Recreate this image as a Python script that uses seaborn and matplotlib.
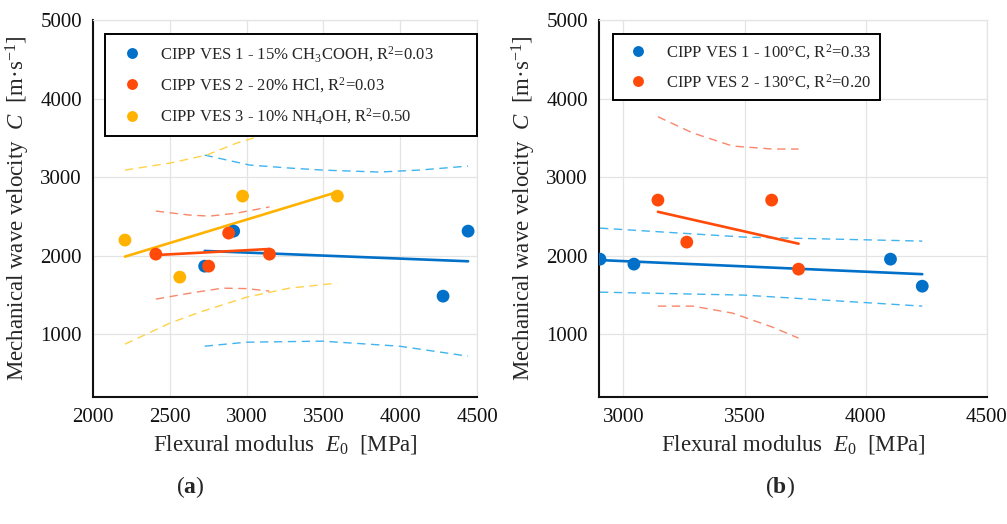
import matplotlib
matplotlib.use('Agg')
import matplotlib.pyplot as plt
import numpy as np
import pandas as pd
import seaborn as sns

# ---- data ----
# panel (a): acid treatments
a_labels = [r'CIPP VES 1 - 15% CH$_3$COOH, R$^2$=0.03',
            r'CIPP VES 2 - 20% HCl, R$^2$=0.03',
            r'CIPP VES 3 - 10% NH$_4$OH, R$^2$=0.50']
a_x = [[2727, 2916, 4279, 4442],
       [2409, 2753, 2883, 3149],
       [2208, 2565, 2974, 3591]]
a_y = [[1866, 2312, 1484, 2312],
       [2019, 1866, 2287, 2019],
       [2198, 1726, 2758, 2758]]

# dashed bounds (a)
a_band_x = [[2727, 3020, 3279, 3494, 3864, 4124, 4442],
            [2409, 2630, 2760, 2935, 3149],
            [2208, 2500, 2740, 2935, 3150]]
a_band_up = [[3280, 3153, 3115, 3089, 3064, 3089, 3140],
             [2567, 2516, 2503, 2541, 2620],
             [3089, 3178, 3280, 3433, 3560]]
a_band_lo_x = [[2727, 3000, 3494, 3994, 4442],
               [2409, 2630, 2844, 3000, 3149],
               [2208, 2500, 2695, 3000, 3279, 3591]]
a_band_lo = [[847, 898, 911, 847, 720],
             [1446, 1522, 1586, 1580, 1548],
             [873, 1140, 1280, 1471, 1586, 1650]]

# panel (b): curing temperature
b_labels = [r'CIPP VES 1 - 100°C, R$^2$=0.33',
            r'CIPP VES 2 - 130°C, R$^2$=0.20']
b_x = [[2904, 3044, 4102, 4233],
       [3143, 3262, 3612, 3723]]
b_y = [[1955, 1892, 1955, 1611],
       [2707, 2172, 2707, 1828]]

b_band_x = [[2904, 3500, 4233],
            [3143, 3287, 3451, 3616, 3723]]
b_band_up = [[2350, 2236, 2185],
             [3768, 3561, 3395, 3357, 3357]]
b_band_lo = [[1535, 1497, 1357],
             [1357, 1357, 1268, 1089, 949]]

point_colors = ['#0070C8', '#FF4A0A', '#FFB300']
band_colors = ['#40B4EE', '#F8876A', '#FFD24A']

sns.set_style('white')
plt.rcParams['font.family'] = ['Liberation Serif', 'DejaVu Serif']
plt.rcParams['mathtext.fontset'] = 'custom'
plt.rcParams['mathtext.rm'] = 'Liberation Serif'
plt.rcParams['mathtext.it'] = 'Liberation Serif:italic'
plt.rcParams['mathtext.bf'] = 'Liberation Serif:bold'

fig = plt.figure(figsize=(10.07, 5.24), dpi=100)
ax_a = fig.add_axes([93 / 1007, 127 / 524, 384 / 1007, 377 / 524])
ax_b = fig.add_axes([599 / 1007, 127 / 524, 388 / 1007, 377 / 524])


def make_df(labels, xs, ys):
    rows = []
    for lab, xx, yy in zip(labels, xs, ys):
        for x, y in zip(xx, yy):
            rows.append((lab, x, y))
    return pd.DataFrame(rows, columns=['series', 'E0', 'C'])


def draw_panel(ax, df, labels, band_x, band_up, band_lo_x, band_lo):
    for i, lab in enumerate(labels):
        sub = df[df.series == lab]
        sns.lineplot(x=band_x[i], y=band_up[i], ax=ax, color=band_colors[i],
                     lw=1.0, linestyle=(0, (6, 4)), zorder=1)
        sns.lineplot(x=band_lo_x[i], y=band_lo[i], ax=ax, color=band_colors[i],
                     lw=1.0, linestyle=(0, (6, 4)), zorder=1)
        sns.regplot(data=sub, x='E0', y='C', ax=ax, scatter=False, ci=None,
                    truncate=True, color=point_colors[i],
                    line_kws=dict(lw=1.9, zorder=2))
    sns.scatterplot(data=df, x='E0', y='C', hue='series', hue_order=labels,
                    palette=point_colors[:len(labels)], s=85, linewidth=0,
                    ax=ax, zorder=3)


df_a = make_df(a_labels, a_x, a_y)
df_b = make_df(b_labels, b_x, b_y)
draw_panel(ax_a, df_a, a_labels, a_band_x, a_band_up, a_band_lo_x, a_band_lo)
draw_panel(ax_b, df_b, b_labels, b_band_x, b_band_up, b_band_x, b_band_lo)

ax_a.set_xlim(2000, 4500)
ax_a.set_xticks([2000, 2500, 3000, 3500, 4000, 4500])
ax_b.set_xlim(2900, 4500)
ax_b.set_xticks([3000, 3500, 4000, 4500])

for ax in (ax_a, ax_b):
    ax.set_ylim(200, 5000)
    ax.set_yticks([1000, 2000, 3000, 4000, 5000])
    ax.grid(True, color='#e4e4e4', lw=0.9)
    ax.set_axisbelow(True)
    for s in ('top', 'right'):
        ax.spines[s].set_color('#e4e4e4')
        ax.spines[s].set_linewidth(0.9)
    for s in ('left', 'bottom'):
        ax.spines[s].set_color('#111111')
        ax.spines[s].set_linewidth(1.5)
    ax.tick_params(direction='in', length=5, width=1.2, labelsize=15,
                   colors='#111111', pad=8, top=False, right=False)
    ax.set_xlabel(r'Flexural modulus  $E_0$  [MPa]', fontsize=16.5, labelpad=4)
    ax.set_ylabel(r'Mechanical wave velocity  $C$  [m·s$^{-1}$]', fontsize=16.5,
                  labelpad=6)

leg_a = ax_a.legend(loc='upper left', bbox_to_anchor=(0.031, 0.963, 0.969, 0.0),
                    mode='expand', fontsize=12, frameon=True, fancybox=False,
                    framealpha=1, edgecolor='black', borderpad=0.6,
                    labelspacing=0.7, handletextpad=0.7, markerscale=0.85,
                    borderaxespad=0)
leg_b = ax_b.legend(loc='upper left', bbox_to_anchor=(0.036, 0.963),
                    fontsize=12, frameon=True, fancybox=False, framealpha=1,
                    edgecolor='black', borderpad=0.5, labelspacing=0.6,
                    handletextpad=0.7, markerscale=0.85, borderaxespad=0)
for leg in (leg_a, leg_b):
    leg.get_frame().set_linewidth(1.4)
    leg.set_zorder(10)

fig.text(190 / 1007, 1 - 487 / 524, r'($\mathbf{a}$)', fontsize=17,
         ha='center', va='center')
fig.text(780 / 1007, 1 - 487 / 524, r'($\mathbf{b}$)', fontsize=17,
         ha='center', va='center')

fig.savefig('out.png', dpi=100)
